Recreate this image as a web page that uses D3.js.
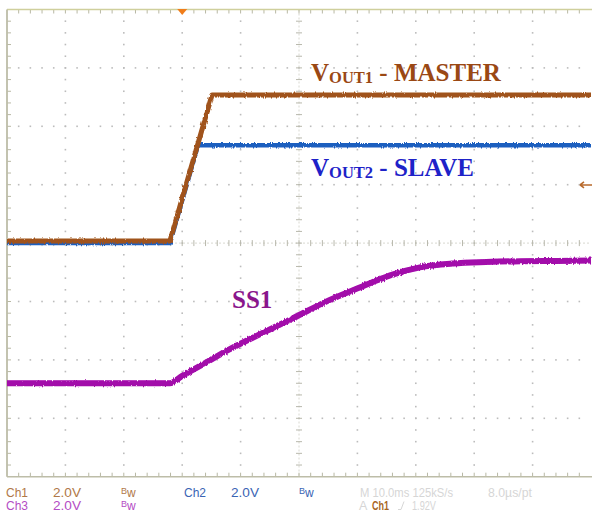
<!DOCTYPE html>
<html>
<head>
<meta charset="utf-8">
<script src="https://cdn.jsdelivr.net/npm/d3@7"></script>
<style>
  html, body { margin: 0; padding: 0; background: #ffffff; }
  svg { display: block; }
</style>
</head>
<body>
<svg id="scope" width="592" height="514"></svg>
<script>
// ---- acquisition settings ----
const timeDomain = [-30, 70];      // ms across the 10 horizontal divisions (10 ms/div)
const divDomain = [-4, 4];         // vertical divisions
const voltsPerDiv = 2.0;

// ---- Ch1: VOUT1 (master) ----
const ch1Time  = [-30, -2.1, 5.1, 70];
const ch1Volts = [0, 0, 5.0, 5.0];

// ---- Ch2: VOUT2 (slave) ----
const ch2Time  = [-30, -2.1, 2.7, 70];
const ch2Volts = [0, 0, 3.35, 3.35];

// ---- Ch3: SS1 soft-start ----
const ch3Time  = [-30, -2.1, 0, 4, 8, 13, 19, 25, 30.5, 33.3, 36, 40.7, 46.4, 52, 58, 64, 70];
const ch3Volts = [0, 0, 0.25, 0.7, 1.15, 1.65, 2.23, 2.83, 3.29, 3.52, 3.72, 3.97, 4.10, 4.15, 4.18, 4.19, 4.2];

// ground reference of each channel, divisions from screen centre
const channelOffsets = [0.036, 0, -2.4];

// trigger: Ch1 rising edge
const triggerTime = 0;
const triggerLevel = 1.92;

// trace annotations
const traceLabels = [
  { main: "V", sub: "OUT1", rest: " - MASTER" },
  { main: "V", sub: "OUT2", rest: " - SLAVE" },
  { main: "SS1", sub: "", rest: "" }
];

// readout strings
const readoutCh   = ["Ch1", "Ch2", "Ch3"];
const readoutVdiv = ["2.0V", "2.0V", "2.0V"];
const readoutTime = ["M 10.0ms 125kS/s", "8.0\u00b5s/pt"];
const readoutTrig = ["A", "Ch1", "1.92V"];

// ---- layout ----
const X0 = 7, X1 = 591, Y0 = 9.5, Y1 = 476.7;
const traceColors = ["#a0521a", "#1f5fbf", "#a208aa"];
const labelColors = ["#9a4814", "#1e22c8", "#8a168c"];
const readoutColors = ["#b07848", "#3a64b4", "#b44cc4"];

const svg = d3.select("#scope");
const x = d3.scaleLinear().domain(timeDomain).range([X0, X1]);
const yDiv = d3.scaleLinear().domain(divDomain).range([Y1, Y0]);
const yCh = (ch, v) => yDiv(v / voltsPerDiv + channelOffsets[ch]);

// ---- graticule ----
const grid = svg.append("g").attr("class", "graticule");
const majorT = d3.range(timeDomain[0], timeDomain[1] + 0.001, 10);
const minorT = d3.range(timeDomain[0], timeDomain[1] + 0.001, 2);
const majorD = d3.range(divDomain[0], divDomain[1] + 0.001, 1);
const minorD = d3.range(divDomain[0], divDomain[1] + 0.001, 0.2);
const centreT = (timeDomain[0] + timeDomain[1]) / 2;
const dotColor = "#bcbcbc";

// dotted major lines (vertical)
majorT.filter(t => t !== timeDomain[0] && t !== timeDomain[1] && t !== centreT).forEach(t => {
  grid.selectAll(null).data(minorD.slice(1, -1)).enter().append("rect")
    .attr("x", x(t) - 0.8).attr("y", d => yDiv(d) - 0.8)
    .attr("width", 1.6).attr("height", 1.6).attr("fill", dotColor);
});
// dotted major lines (horizontal)
majorD.filter(d => d !== divDomain[0] && d !== divDomain[1] && d !== 0).forEach(d => {
  grid.selectAll(null).data(minorT.slice(1, -1)).enter().append("rect")
    .attr("x", t => x(t) - 0.8).attr("y", yDiv(d) - 0.8)
    .attr("width", 1.6).attr("height", 1.6).attr("fill", dotColor);
});

// centre cross with minor ticks
grid.append("line").attr("x1", X0).attr("x2", X1).attr("y1", yDiv(0)).attr("y2", yDiv(0))
  .attr("stroke", "#d8d8d0").attr("stroke-width", 1).attr("stroke-dasharray", "2,2");
grid.append("line").attr("x1", x(centreT)).attr("x2", x(centreT)).attr("y1", Y0).attr("y2", Y1)
  .attr("stroke", "#d8d8d0").attr("stroke-width", 1).attr("stroke-dasharray", "2,2");
grid.selectAll(null).data(minorT.slice(1, -1)).enter().append("line")
  .attr("x1", t => x(t)).attr("x2", t => x(t))
  .attr("y1", yDiv(0) - 3).attr("y2", yDiv(0) + 3)
  .attr("stroke", "#b8b8ac").attr("stroke-width", 1);
grid.selectAll(null).data(minorD.slice(1, -1)).enter().append("line")
  .attr("x1", x(centreT) - 3).attr("x2", x(centreT) + 3)
  .attr("y1", d => yDiv(d)).attr("y2", d => yDiv(d))
  .attr("stroke", "#b8b8ac").attr("stroke-width", 1);

// border ticks
grid.selectAll(null).data(minorT.slice(1, -1)).enter().append("line")
  .attr("x1", t => x(t)).attr("x2", t => x(t)).attr("y1", Y0).attr("y2", Y0 + 4)
  .attr("stroke", "#b8b8a4").attr("stroke-width", 1);
grid.selectAll(null).data(minorT.slice(1, -1)).enter().append("line")
  .attr("x1", t => x(t)).attr("x2", t => x(t)).attr("y1", Y1).attr("y2", Y1 - 4)
  .attr("stroke", "#b8b8a4").attr("stroke-width", 1);
grid.selectAll(null).data(minorD.slice(1, -1)).enter().append("line")
  .attr("x1", X0).attr("x2", X0 + 4).attr("y1", d => yDiv(d)).attr("y2", d => yDiv(d))
  .attr("stroke", "#b8b8a4").attr("stroke-width", 1);

// screen border
grid.append("line").attr("x1", X0).attr("x2", X1 + 1).attr("y1", Y0).attr("y2", Y0)
  .attr("stroke", "#cfcf9c").attr("stroke-width", 1.5);
grid.append("line").attr("x1", X0).attr("x2", X1 + 1).attr("y1", Y1).attr("y2", Y1)
  .attr("stroke", "#bdbda8").attr("stroke-width", 1.5);
grid.append("line").attr("x1", X0).attr("x2", X0).attr("y1", Y0).attr("y2", Y1)
  .attr("stroke", "#bdbda8").attr("stroke-width", 1.8);

// ---- traces ----
const defs = svg.append("defs");
defs.append("clipPath").attr("id", "screen").append("rect")
  .attr("x", X0).attr("y", Y0).attr("width", X1 - X0 + 1).attr("height", Y1 - Y0);
// acquisition noise on the traces
const fuzz = defs.append("filter").attr("id", "fuzz")
  .attr("filterUnits", "userSpaceOnUse")
  .attr("x", 0).attr("y", 0).attr("width", 592).attr("height", 514);
fuzz.append("feTurbulence").attr("type", "fractalNoise")
  .attr("baseFrequency", "0.9 0.15").attr("numOctaves", 2).attr("seed", 3).attr("result", "n");
fuzz.append("feDisplacementMap").attr("in", "SourceGraphic").attr("in2", "n")
  .attr("scale", 3).attr("xChannelSelector", "R").attr("yChannelSelector", "G");

const traces = [
  { ch: 2, time: ch3Time, volts: ch3Volts, width: 6, curve: d3.curveMonotoneX },
  { ch: 1, time: ch2Time, volts: ch2Volts, width: 4.5, curve: d3.curveLinear },
  { ch: 0, time: ch1Time, volts: ch1Volts, width: 5, curve: d3.curveLinear }
];
const traceLayer = svg.append("g").attr("clip-path", "url(#screen)")
  .append("g").attr("filter", "url(#fuzz)");
traces.forEach(tr => {
  const pts = tr.time.map((t, i) => [t, tr.volts[i]]);
  const line = d3.line().curve(tr.curve)
    .x(d => x(d[0])).y(d => yCh(tr.ch, d[1]));
  traceLayer.append("path").datum(pts)
    .attr("d", line).attr("fill", "none")
    .attr("stroke", traceColors[tr.ch]).attr("stroke-width", tr.width)
    .attr("stroke-linejoin", "round");
});

// ---- trigger markers ----
const tx = x(triggerTime);
svg.append("path")
  .attr("d", `M${tx - 5},${Y0 - 0.5} L${tx + 5},${Y0 - 0.5} L${tx},${Y0 + 5.5} Z`)
  .attr("fill", "#f07d1a");
const ty = yCh(0, triggerLevel);
svg.append("path")
  .attr("d", `M${X1 - 11},${ty} L${X1 + 1},${ty} M${X1 - 11},${ty} L${X1 - 7},${ty - 3} M${X1 - 11},${ty} L${X1 - 7},${ty + 3}`)
  .attr("stroke", "#b86a2c").attr("stroke-width", 1.6).attr("fill", "none");

// ---- trace labels ----
const labelPos = [[311, 81], [311, 175.5], [232, 308]];
traceLabels.forEach((lb, i) => {
  const t = svg.append("text")
    .attr("x", labelPos[i][0]).attr("y", labelPos[i][1])
    .attr("fill", labelColors[i])
    .attr("font-family", "'Liberation Serif', 'Times New Roman', serif")
    .attr("font-weight", "bold").attr("font-size", 25);
  t.append("tspan").text(lb.main);
  if (lb.sub) t.append("tspan").attr("font-size", 16.5).attr("dy", 2).text(lb.sub);
  if (lb.rest) t.append("tspan").attr("dy", lb.sub ? -2 : 0).text(lb.rest);
});

// ---- readout ----
const ro = svg.append("g")
  .attr("font-family", "'Liberation Sans', Arial, sans-serif").attr("font-size", 12.5);
const rowY = [497, 509.5];
// channel rows: Ch1 / Ch3 on the left, Ch2 in the middle
const chPlace = [
  { ch: 0, x: 6, y: rowY[0] },
  { ch: 1, x: 184, y: rowY[0] },
  { ch: 2, x: 6, y: rowY[1] }
];
chPlace.forEach(p => {
  ro.append("text").attr("x", p.x).attr("y", p.y).attr("fill", readoutColors[p.ch])
    .attr("textLength", 22).attr("lengthAdjust", "spacingAndGlyphs").text(readoutCh[p.ch]);
  ro.append("text").attr("x", p.x + 47).attr("y", p.y).attr("fill", readoutColors[p.ch])
    .attr("textLength", 28).attr("lengthAdjust", "spacingAndGlyphs").text(readoutVdiv[p.ch]);
  const bw = ro.append("text").attr("x", p.x + 115).attr("y", p.y).attr("fill", readoutColors[p.ch]);
  bw.append("tspan").attr("font-size", 9).attr("dy", -3).text("B");
  bw.append("tspan").attr("font-size", 12).attr("dy", 3).text("w");
});

// timebase and trigger readout
ro.append("text").attr("x", 360).attr("y", rowY[0]).attr("fill", "#d6d6d6")
  .attr("textLength", 93).attr("lengthAdjust", "spacingAndGlyphs").text(readoutTime[0]);
ro.append("text").attr("x", 488).attr("y", rowY[0]).attr("fill", "#d6d6d6")
  .attr("textLength", 44).attr("lengthAdjust", "spacingAndGlyphs").text(readoutTime[1]);
ro.append("text").attr("x", 359).attr("y", rowY[1]).attr("fill", "#d6d6d6").text(readoutTrig[0]);
ro.append("text").attr("x", 372).attr("y", rowY[1]).attr("fill", "#a8661e").attr("font-weight", "bold")
  .attr("textLength", 17).attr("lengthAdjust", "spacingAndGlyphs").text(readoutTrig[1]);
ro.append("path").attr("d", `M398,${rowY[1]} L401,${rowY[1]} L404,${rowY[1] - 8}`)
  .attr("stroke", "#d6d6d6").attr("fill", "none").attr("stroke-width", 1);
ro.append("text").attr("x", 412).attr("y", rowY[1]).attr("fill", "#d6d6d6")
  .attr("textLength", 24).attr("lengthAdjust", "spacingAndGlyphs").text(readoutTrig[2]);
</script>
</body>
</html>
